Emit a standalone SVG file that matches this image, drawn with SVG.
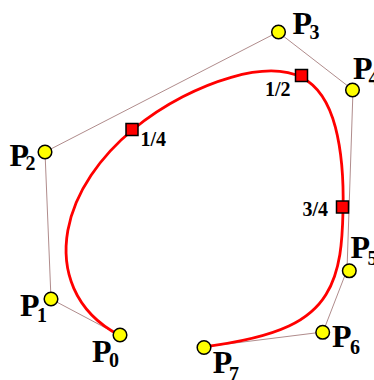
<svg xmlns="http://www.w3.org/2000/svg" width="374" height="380" viewBox="0 0 374 380">
<style>
.poly{stroke:#b08c8c;stroke-width:1;fill:none}
.curve{stroke:#f00;stroke-width:2.8;fill:none}
.pt{fill:#ff0;stroke:#000;stroke-width:1.5}
.sq{fill:#f00;stroke:#000;stroke-width:1.5}
.lbl{font-family:"Liberation Serif","Times New Roman",serif;font-weight:bold;fill:#000}
.big{font-size:32px}
.sub{font-size:20px}
.frac{font-size:20px}
</style>
<rect width="374" height="380" fill="#fff"/>
<g id="connectors">
<line class="poly" x1="119" y1="335" x2="51" y2="299"/>
<line class="poly" x1="51" y1="299" x2="45" y2="152"/>
<line class="poly" x1="45" y1="152" x2="278" y2="32"/>
<line class="poly" x1="278" y1="32" x2="353" y2="90"/>
<line class="poly" x1="353" y1="90" x2="347" y2="270"/>
<line class="poly" x1="347" y1="270" x2="323" y2="332"/>
<line class="poly" x1="323" y1="332" x2="203" y2="347"/>
</g>
<g id="curve">
<path class="curve" d="M119,335 C73.67,311 60.95,269.37 67.83,230.53 C74.73,191.69 101.23,155.65 133.01,129.46 C164.8,103.26 201,85.84 231.17,77.28 C261.35,68.71 285.48,69 302.22,77.67 C318.96,86.33 329.18,103.61 335.37,127.08 C341.56,150.62 343.74,180.22 343.04,210.33 C342.35,240.44 340.84,270.44 326,294.58 C311.17,318.72 283,337 203,347"/>
</g>
<g id="q14"><rect class="sq" x="126" y="123.5" width="12" height="12"/><text class="lbl frac" x="140.5" y="146">1/4</text></g>
<g id="q12"><rect class="sq" x="295.5" y="69.5" width="12" height="12"/><text class="lbl frac" x="265" y="96">1/2</text></g>
<g id="q34"><rect class="sq" x="336.5" y="201" width="12" height="12"/><text class="lbl frac" x="302.5" y="216">3/4</text></g>
<g id="P0"><circle class="pt" cx="120" cy="335" r="6.8"/><text class="lbl big" x="92" y="361.5">P</text><text class="lbl sub" x="109" y="367">0</text></g>
<g id="P1"><circle class="pt" cx="51" cy="299" r="6.8"/><text class="lbl big" x="20" y="316">P</text><text class="lbl sub" x="37" y="321.5">1</text></g>
<g id="P2"><circle class="pt" cx="45" cy="152" r="6.8"/><text class="lbl big" x="9.5" y="165.5">P</text><text class="lbl sub" x="25.5" y="170">2</text></g>
<g id="P3"><circle class="pt" cx="278.5" cy="32" r="6.8"/><text class="lbl big" x="292.5" y="33.5">P</text><text class="lbl sub" x="309.5" y="38.5">3</text></g>
<g id="P4"><circle class="pt" cx="352.5" cy="90" r="6.8"/><text class="lbl big" x="353" y="78.5">P</text><text class="lbl sub" x="368.5" y="85">4</text></g>
<g id="P5"><circle class="pt" cx="349.3" cy="270.8" r="6.8"/><text class="lbl big" x="350.5" y="258.3">P</text><text class="lbl sub" x="367.5" y="265">5</text></g>
<g id="P6"><circle class="pt" cx="322.7" cy="332.3" r="6.8"/><text class="lbl big" x="332" y="346.7">P</text><text class="lbl sub" x="350" y="354.3">6</text></g>
<g id="P7"><circle class="pt" cx="204" cy="347.5" r="6.8"/><text class="lbl big" x="212.8" y="373.3">P</text><text class="lbl sub" x="229" y="380.5">7</text></g>
</svg>
